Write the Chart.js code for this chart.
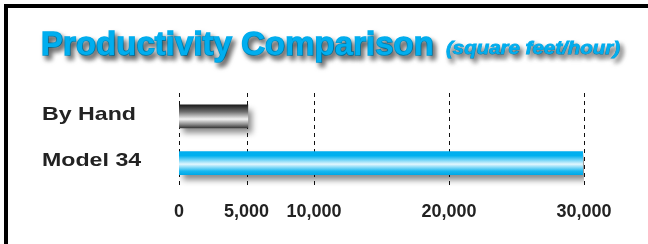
<!DOCTYPE html>
<html lang="en">

<head>
    <meta charset="UTF-8">
    <title>Productivity Comparison</title>
    <script src="https://cdn.jsdelivr.net/npm/chart.js"></script>
    <style>
        body {
            margin: 0;
            background: #fff;
        }

        #wrap {
            position: relative;
            width: 648px;
            height: 244px;
            overflow: hidden;
        }

        #frame {
            position: absolute;
            left: 4px;
            top: 4px;
            width: 700px;
            height: 300px;
            border-left: 4px solid #000;
            border-top: 4px solid #000;
            pointer-events: none;
        }
    </style>
</head>

<body>
    <div id="wrap">
        <canvas id="prodChart" width="648" height="244"></canvas>
        <div id="frame"></div>
    </div>

    <script>
        // data
        const categories = ['By Hand', 'Model 34'];
        const sqftPerHour = [5100, 29900];
        const tickValues = [0, 5000, 10000, 20000, 30000];

        const titleText = 'Productivity Comparison';
        const subtitleText = '(square feet/hour)';

        const BAR_H = 23;

        // vertical gradient for each bar, based on where the y scale puts it
        function barGradient(context) {
            const chart = context.chart;
            const yScale = chart.scales.y;
            if (!yScale || !chart.chartArea) return '#00aeef';
            const cy = yScale.getPixelForValue(context.dataIndex);
            const g = chart.ctx.createLinearGradient(0, cy - BAR_H / 2, 0, cy + BAR_H / 2);
            if (context.dataIndex === 0) {
                g.addColorStop(0, '#1b1b1b');
                g.addColorStop(0.3, '#6e6e6e');
                g.addColorStop(0.62, '#f4f4f4');
                g.addColorStop(0.85, '#8a8a8a');
                g.addColorStop(1, '#3a3a3a');
            } else {
                g.addColorStop(0, '#00aeef');
                g.addColorStop(0.18, '#00b0ef');
                g.addColorStop(0.55, '#e2f7fe');
                g.addColorStop(0.85, '#19b8f0');
                g.addColorStop(1, '#00a9e8');
            }
            return g;
        }

        // dashed grid lines at the tick values + soft drop shadow under the bars
        const barShadow = {
            id: 'barShadow',
            beforeDatasetsDraw(chart) {
                const ctx = chart.ctx;
                const area = chart.chartArea;
                const xScale = chart.scales.x;
                ctx.save();
                ctx.strokeStyle = '#111';
                ctx.lineWidth = 1;
                ctx.setLineDash([4, 4]);
                tickValues.forEach(v => {
                    const x = Math.round(xScale.getPixelForValue(v)) + 0.5;
                    ctx.beginPath();
                    ctx.moveTo(x, area.top);
                    ctx.lineTo(x, area.bottom);
                    ctx.stroke();
                });
                ctx.restore();

                ctx.save();
                ctx.shadowColor = 'rgba(0,0,0,0.45)';
                ctx.shadowBlur = 6;
                ctx.shadowOffsetX = 4;
                ctx.shadowOffsetY = 5;
            },
            afterDatasetsDraw(chart) {
                chart.ctx.restore();
            }
        };

        // title with shadow + category labels
        const textBits = {
            id: 'textBits',
            afterDraw(chart) {
                const ctx = chart.ctx;
                ctx.save();
                ctx.shadowColor = 'rgba(0,0,0,0.6)';
                ctx.shadowBlur = 5;
                ctx.shadowOffsetX = 3;
                ctx.shadowOffsetY = 4;
                ctx.fillStyle = '#00aeef';
                ctx.strokeStyle = '#00aeef';
                ctx.textBaseline = 'alphabetic';
                ctx.textAlign = 'left';

                ctx.font = 'bold 34px "Liberation Sans", Arial, sans-serif';
                const w = ctx.measureText(titleText).width;
                ctx.save();
                ctx.translate(41, 55);
                ctx.scale(393 / w, 1);
                ctx.lineWidth = 1.6;
                ctx.strokeText(titleText, 0, 0);
                ctx.fillText(titleText, 0, 0);
                ctx.restore();

                ctx.font = 'italic bold 19px "Liberation Sans", Arial, sans-serif';
                const w2 = ctx.measureText(subtitleText).width;
                ctx.save();
                ctx.translate(446, 54);
                ctx.scale(174 / w2, 1);
                ctx.lineWidth = 0.8;
                ctx.strokeText(subtitleText, 0, 0);
                ctx.fillText(subtitleText, 0, 0);
                ctx.restore();
                ctx.restore();

                // category labels, stretched a bit like the original
                const yScale = chart.scales.y;
                ctx.save();
                ctx.fillStyle = '#222';
                ctx.font = 'bold 19px "Liberation Sans", Arial, sans-serif';
                ctx.textBaseline = 'middle';
                const sx = 94 / ctx.measureText(categories[0]).width;
                categories.forEach((c, i) => {
                    ctx.save();
                    ctx.translate(42, yScale.getPixelForValue(i) - 2);
                    ctx.scale(sx, 1);
                    ctx.fillText(c, 0, 0);
                    ctx.restore();
                });
                ctx.restore();
            }
        };

        const ctx = document.getElementById('prodChart').getContext('2d');
        const prodChart = new Chart(ctx, {
            type: 'bar',
            data: {
                labels: categories,
                datasets: [{
                    data: sqftPerHour,
                    backgroundColor: barGradient,
                    borderWidth: 0,
                    barThickness: BAR_H
                }]
            },
            options: {
                indexAxis: 'y',
                responsive: false,
                animation: false,
                events: [],
                layout: {
                    padding: { left: 179, right: 64, top: 93, bottom: 6 }
                },
                plugins: {
                    legend: { display: false },
                    title: { display: false },
                    tooltip: { enabled: false }
                },
                scales: {
                    x: {
                        min: 0,
                        max: 30000,
                        afterBuildTicks(scale) {
                            scale.ticks = tickValues.map(v => ({ value: v }));
                        },
                        grid: { display: false, drawTicks: false },
                        border: { display: false },
                        ticks: {
                            padding: 15,
                            color: '#222',
                            font: { family: '"Liberation Sans", Arial, sans-serif', size: 18, weight: 'bold' },
                            callback: v => v.toLocaleString('en-US')
                        }
                    },
                    y: {
                        display: false
                    }
                }
            },
            plugins: [barShadow, textBits]
        });
    </script>
</body>

</html>
